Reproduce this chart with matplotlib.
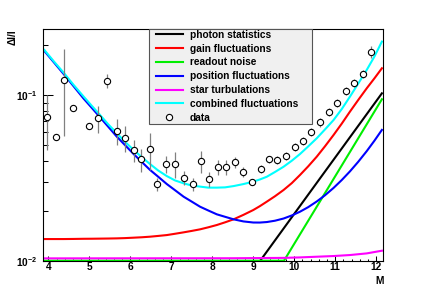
import matplotlib
matplotlib.use("Agg")
import matplotlib.pyplot as plt
from matplotlib.lines import Line2D
from matplotlib.legend_handler import HandlerLine2D
from matplotlib.ticker import MultipleLocator, LogLocator, NullFormatter

plt.rcParams["font.family"] = ["Liberation Sans", "DejaVu Sans"]
plt.rcParams["font.weight"] = "bold"
plt.rcParams["mathtext.fontset"] = "custom"
plt.rcParams["mathtext.bf"] = "Liberation Sans:bold"
plt.rcParams["mathtext.rm"] = "Liberation Sans:bold"

# measured points
mag = [3.96, 4.18, 4.38, 4.59, 4.99, 5.21, 5.43, 5.68, 5.87, 6.08, 6.26, 6.47,
       6.66, 6.87, 7.09, 7.30, 7.52, 7.72, 7.92, 8.13, 8.34, 8.56, 8.76, 8.98,
       9.19, 9.39, 9.59, 9.80, 10.01, 10.21, 10.41, 10.62, 10.84, 11.04, 11.26,
       11.46, 11.69, 11.88]
rel = [0.0733, 0.056, 0.1227, 0.0838, 0.065, 0.0726, 0.122, 0.0609, 0.055,
       0.0466, 0.0409, 0.047, 0.029, 0.0382, 0.0383, 0.0317, 0.029, 0.040,
       0.0311, 0.0366, 0.0366, 0.0393, 0.0344, 0.0297, 0.0358, 0.0409, 0.0405,
       0.043, 0.0488, 0.0528, 0.0596, 0.0684, 0.0793, 0.0895, 0.1053, 0.1181,
       0.1344, 0.1817]
rel_err = [0.027, 0.002, 0.066, 0.002, 0.002, 0.0135, 0.012, 0.011, 0.010,
           0.0072, 0.0065, 0.0117, 0.0027, 0.0044, 0.0068, 0.003, 0.0027, 0.006,
           0.0033, 0.0037, 0.0037, 0.0028, 0.0022, 0.0012, 0.002, 0.0022, 0.0022,
           0.0024, 0.0028, 0.003, 0.0034, 0.004, 0.0045, 0.005, 0.006, 0.0068,
           0.0075, 0.015]

# model curves
model_m = [3.9, 4.13, 4.37, 4.61, 4.86, 5.06, 5.26, 5.46, 5.67, 5.87, 6.08,
           6.28, 6.48, 6.68, 6.89, 7.09, 7.3, 7.5, 7.7, 7.9, 8.11, 8.31, 8.52,
           8.76, 9.0, 9.16, 9.33, 9.53, 9.74, 9.94, 10.14, 10.34, 10.55, 10.75,
           10.96, 11.16, 11.36, 11.56, 11.77, 11.96, 12.14]
combined = [0.1869, 0.1596, 0.1364, 0.1153, 0.0977, 0.0859, 0.0757, 0.0665,
            0.0587, 0.0521, 0.0466, 0.0421, 0.0383, 0.0350, 0.0324, 0.0305,
            0.0293, 0.0284, 0.0280, 0.0276, 0.0276, 0.0277, 0.0282, 0.0290,
            0.0300, 0.0309, 0.0321, 0.0343, 0.0369, 0.0401, 0.0440, 0.0489,
            0.0548, 0.0619, 0.0706, 0.0822, 0.0977, 0.1169, 0.1416, 0.1710,
            0.2099]
position = [0.1843, 0.1576, 0.1339, 0.1132, 0.0950, 0.0835, 0.0733, 0.0643,
            0.0560, 0.0498, 0.0440, 0.0394, 0.0353, 0.0321, 0.0290, 0.02663,
            0.02433, 0.02271, 0.02118, 0.02010, 0.01905, 0.01841, 0.01777,
            0.01726, 0.01700, 0.01699, 0.01711, 0.01743, 0.01797, 0.01875,
            0.01975, 0.02104, 0.02277, 0.02481, 0.02749, 0.03067, 0.03459,
            0.03946, 0.04584, 0.05308, 0.06153]
gain = [0.01351, 0.01351, 0.01351, 0.01353, 0.01356, 0.01357, 0.01359,
        0.01361, 0.01364, 0.01369, 0.01377, 0.01385, 0.01396, 0.01411,
        0.01428, 0.01454, 0.01483, 0.01513, 0.01546, 0.01590, 0.01642,
        0.01704, 0.01777, 0.01891, 0.02022, 0.02133, 0.02271, 0.02449,
        0.02671, 0.02938, 0.03289, 0.03707, 0.04244, 0.04898, 0.05735,
        0.06714, 0.07932, 0.09311, 0.1097, 0.1262, 0.1449]
photon_m = [9.17, 10.65, 12.14]
photon = [0.01, 0.0319, 0.1023]
readout_m = [3.9, 9.75, 12.14]
readout = [0.01, 0.01, 0.0942]
star_m = [3.9, 8.5, 9.74, 10.14, 10.55, 10.96, 11.36, 11.77, 12.14]
star = [0.01033, 0.01035, 0.0104, 0.01047, 0.01057, 0.01067, 0.01082,
        0.01107, 0.01149]

labels = ["photon statistics", "gain fluctuations", "readout noise",
          "position fluctuations", "star turbulations", "combined fluctuations",
          "data"]

fig = plt.figure(figsize=(4.27, 2.9), dpi=100)
ax = fig.add_axes([0.1, 0.101, 0.7963, 0.8])

lw = 1.5
l_photon, = ax.plot(photon_m, photon, color="black", lw=lw)
l_gain, = ax.plot(model_m, gain, color="#ff0000", lw=lw)
l_readout, = ax.plot(readout_m, readout, color="#00ee00", lw=lw, clip_on=False)
l_pos, = ax.plot(model_m, position, color="#0000ff", lw=lw)
l_star, = ax.plot(star_m, star, color="#ff00ff", lw=lw)
l_comb, = ax.plot(model_m, combined, color="#00ffff", lw=lw)

ax.errorbar(mag, rel, yerr=rel_err, fmt="o", ms=4.5, mfc="white", mec="black",
            mew=0.8, ecolor="#808080", elinewidth=0.9, capsize=0, zorder=5)
data_handle = Line2D([], [], ls="", marker="o", ms=4.5, mfc="white",
                     mec="black", mew=0.8)

ax.set_yscale("log")
ax.set_xlim(3.86, 12.16)
ax.set_ylim(0.01, 0.251)

ax.xaxis.set_major_locator(MultipleLocator(1))
ax.xaxis.set_minor_locator(MultipleLocator(0.2))
ax.set_yticks([0.01, 0.1], labels=[r"$\mathbf{10^{-2}}$", r"$\mathbf{10^{-1}}$"])
ax.yaxis.set_minor_locator(LogLocator(base=10, subs=range(2, 10)))
ax.yaxis.set_minor_formatter(NullFormatter())

ax.tick_params(axis="x", which="major", direction="in", length=3.6, width=0.75,
               labelsize=7.3, pad=1.2)
ax.tick_params(axis="x", which="minor", direction="in", length=1.8, width=0.75)
ax.tick_params(axis="y", which="major", direction="in", length=7.2, width=0.75,
               labelsize=7.3, pad=4)
ax.tick_params(axis="y", which="minor", direction="in", length=3.6, width=0.75)
for sp in ax.spines.values():
    sp.set_linewidth(0.8)

fig.text(0.029, 0.897, "ΔI/I", rotation=90, ha="center", va="top",
         fontsize=7.3, fontweight="bold")
fig.text(0.899, 0.032, "M", ha="right", va="center", fontsize=7.3,
         fontweight="bold")

fs = 7.3
leg = ax.legend([l_photon, l_gain, l_readout, l_pos, l_star, l_comb, data_handle],
                labels, loc="upper left",
                bbox_to_anchor=(149 / 427, 1 - 28.7 / 290, 163.3 / 427, 0.0),
                bbox_transform=fig.transFigure, mode="expand", borderaxespad=0,
                fontsize=fs, borderpad=0.1, labelspacing=0.38, handlelength=3.28,
                handletextpad=0.66, numpoints=1, fancybox=False, framealpha=1,
                facecolor="#f0f0f0", edgecolor="#555555",
                handler_map={Line2D: HandlerLine2D(xpad=0.56)})
leg.get_frame().set_linewidth(0.8)
leg.set_zorder(10)

fig.savefig("out.png", dpi=100)
